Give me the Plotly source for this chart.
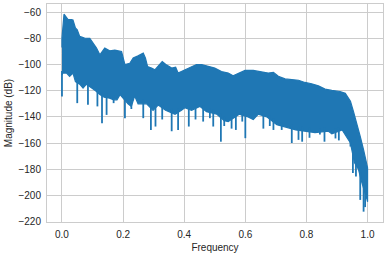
import numpy as np
import plotly.graph_objects as go

# Upper envelope of the magnitude spectrum
freq_upper = [0.0, 0.0, 0.0066, 0.012, 0.02, 0.031, 0.036, 0.044, 0.05, 0.058,
              0.074, 0.091, 0.102, 0.113, 0.124, 0.14, 0.156, 0.173, 0.195, 0.206,
              0.222, 0.233, 0.249, 0.266, 0.273, 0.28, 0.293, 0.304, 0.328, 0.34,
              0.359, 0.372, 0.38, 0.39, 0.408, 0.424, 0.44, 0.457, 0.478, 0.5,
              0.522, 0.544, 0.56, 0.577, 0.599, 0.626, 0.653, 0.675, 0.692, 0.708,
              0.73, 0.752, 0.774, 0.795, 0.817, 0.839, 0.861, 0.883, 0.91, 0.927,
              0.944, 0.954, 0.965, 0.976, 0.987, 0.996, 1.0]
mag_upper = [-87, -80, -61.5, -63, -65.7, -65.7, -66, -72, -73.4, -78.5,
             -79.8, -80, -83.6, -87.4, -92.5, -87.4, -89.5, -89, -90, -100,
             -99, -95, -93.3, -91.2, -95, -101.5, -102.7, -104, -97.7, -100,
             -102.7, -102, -106.5, -105.5, -103.5, -102, -100, -100, -101.5, -102.7,
             -105.3, -106.5, -108.6, -107, -104.5, -104.5, -105.3, -106.5, -106, -109,
             -111, -111.5, -112, -113.7, -114.7, -116.3, -118.8, -119.8, -120.6, -122,
             -128, -136, -145, -155, -165.3, -175.5, -179]

# Lower edge of the dense body of the spectrum
freq_body = [0.0, 0.003, 0.015, 0.025, 0.036, 0.044, 0.058, 0.069, 0.08, 0.093,
             0.11, 0.124, 0.138, 0.156, 0.169, 0.18, 0.19, 0.216, 0.227, 0.238,
             0.249, 0.277, 0.298, 0.315, 0.339, 0.37, 0.391, 0.402, 0.424, 0.451,
             0.473, 0.507, 0.531, 0.544, 0.58, 0.609, 0.626, 0.642, 0.67, 0.703,
             0.735, 0.765, 0.8, 0.828, 0.872, 0.883, 0.917, 0.933, 0.944, 0.957,
             0.97, 0.981, 0.998, 1.0]
mag_body = [-108, -106.5, -106.5, -109, -106.5, -113, -115, -118, -115, -117,
            -120, -123, -125, -125.7, -127, -127, -123, -130, -132, -124,
            -130, -130, -135, -131, -135, -138, -135, -133, -135, -132,
            -136, -138, -143, -143.6, -138, -140, -142, -138, -140, -146,
            -148, -150, -151, -152, -151, -153, -150, -156, -160, -175,
            -180, -190, -203, -205]

# Deep dips (narrow downward spikes) below the body
freq_spike = [0.0, 0.05, 0.085, 0.116, 0.131, 0.146, 0.169, 0.206, 0.227, 0.266,
              0.291, 0.306, 0.328, 0.359, 0.38, 0.415, 0.437, 0.462, 0.484, 0.495,
              0.52, 0.531, 0.555, 0.569, 0.59, 0.6, 0.659, 0.68, 0.692, 0.719,
              0.752, 0.774, 0.786, 0.81, 0.844, 0.859, 0.895, 0.906, 0.944, 0.952,
              0.962, 0.976, 0.987, 0.992]
mag_spike = [-124.5, -129.5, -130.8, -132, -144.8, -138.5, -129.5, -141, -134, -141,
             -150, -147.4, -142, -151, -150, -147.4, -142, -143.6, -141, -147.4,
             -159, -147, -149, -150, -143.6, -156.3, -149, -147, -150, -150,
             -160, -157.6, -159, -156, -153.5, -159, -156.5, -158, -162.7, -183,
             -185.7, -203.5, -212.5, -209]

y_ticks = [-60, -80, -100, -120, -140, -160, -180, -200, -220]
x_ticks = [0.0, 0.2, 0.4, 0.6, 0.8, 1.0]

BLUE = "#1f77b4"
poly_x = freq_upper + freq_body[::-1]
poly_y = mag_upper + mag_body[::-1]

fig = go.Figure()
fig.add_trace(go.Scatter(
    x=poly_x, y=poly_y, mode="lines", fill="toself",
    fillcolor=BLUE, line=dict(color=BLUE, width=1.2),
    hoverinfo="skip", showlegend=False,
))

# spikes: vertical segments from inside the body down to each dip
body_at_spike = np.interp(freq_spike, freq_body, mag_body)
sx, sy = [], []
for f, top, bot in zip(freq_spike, body_at_spike, mag_spike):
    sx += [f, f, None]
    sy += [top + 3, bot, None]
fig.add_trace(go.Scatter(
    x=sx, y=sy, mode="lines", line=dict(color=BLUE, width=1.8),
    hoverinfo="skip", showlegend=False,
))

font_family = "Liberation Sans, Arial, sans-serif"
axis_common = dict(
    showgrid=True, gridcolor="#cccccc", gridwidth=1,
    showline=True, linecolor="#cccccc", linewidth=1, mirror=True,
    zeroline=False, ticks="",
    tickfont=dict(family=font_family, size=10, color="#262626"),
    ticklabelstandoff=3,
)

fig.update_layout(
    width=391, height=257,
    margin=dict(l=47, r=8, t=4, b=35),
    paper_bgcolor="white", plot_bgcolor="white",
    font=dict(family=font_family, size=10, color="#262626"),
    xaxis=dict(range=[-0.049, 1.0505], tickvals=x_ticks, tickformat=".1f",
               title=dict(text="Frequency", font=dict(size=10), standoff=4),
               **axis_common),
    yaxis=dict(range=[-220.4, -53.7], tickvals=y_ticks,
               title=dict(text="Magnitude (dB)", font=dict(size=10), standoff=3),
               **axis_common),
)

fig.write_html("out.html")
